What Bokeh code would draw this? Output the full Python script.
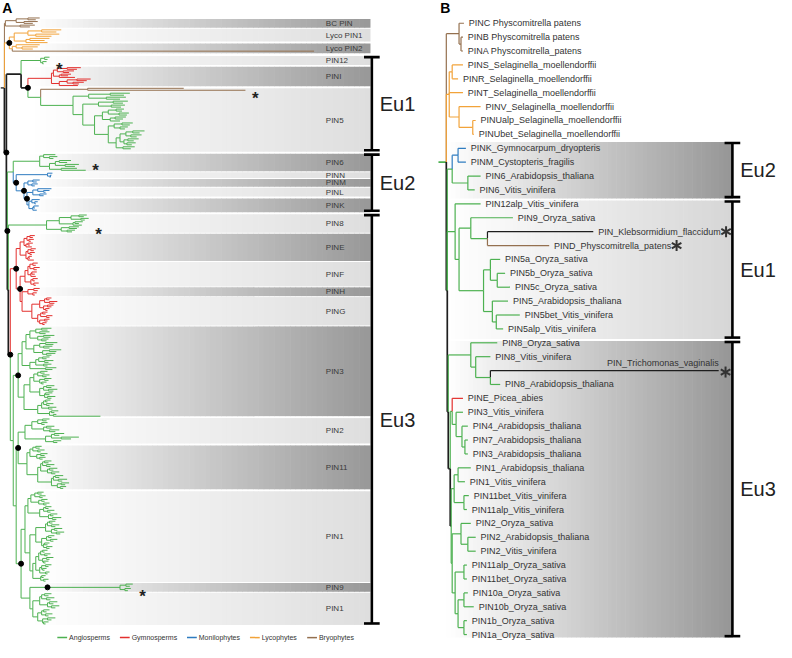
import copy
import math
from bokeh.plotting import figure
from bokeh.models import Range1d
from bokeh.embed import file_html
from bokeh.resources import INLINE
from bokeh.core.properties import value

# ============================ DATA ============================
# lineage colour keys used in the tree strings
LINEAGE_KEYS = ["g", "r", "u", "o", "w", "k"]
LINEAGE_COLORS = ["#4db151", "#e3302e", "#2f7cc0", "#f2a33a", "#94704f", "#1e1e1e"]
LEGEND_NAMES = ["Angiosperms", "Gymnosperms", "Monilophytes", "Lycophytes", "Bryophytes"]
LEGEND_KEYS = ["g", "r", "u", "o", "w"]

# ---- panel A: clade bands ----
BAND_LABELS_A = ["BC PIN", "Lyco PIN1", "Lyco PIN2", "PIN12", "PINI", "PIN5", "PIN6", "PINN",
                 "PINM", "PINL", "PINK", "PIN8", "PINE", "PINF", "PINH", "PING", "PIN3", "PIN2",
                 "PIN11", "PIN1", "PIN9", "PIN1"]
BAND_TOP_A = [19, 29, 44, 57, 68, 90, 157, 176, 183, 192, 203, 219, 239, 268, 294, 304, 334,
              428, 456, 503, 597, 607]
BAND_BOTTOM_A = [28, 42, 54, 66, 88, 155, 175, 182, 191, 201, 217, 238, 267, 293, 303, 333,
                 426, 454, 501, 596, 606, 640]
BAND_GROUP_A = ["", "", "", "Eu1", "Eu1", "Eu1", "Eu2", "Eu2", "Eu2", "Eu2", "Eu2", "Eu3",
                "Eu3", "Eu3", "Eu3", "Eu3", "Eu3", "Eu3", "Eu3", "Eu3", "Eu3", "Eu3"]

# ---- panel A: clades (node depth values; '*' node dot, '!' asterisk) ----
CLADE_NAMES_A = ["BC", "LYCO", "PIN12", "PINI", "PIN5B", "PIN5", "PIN6", "PINN", "PINM",
                 "PINL", "PINK", "PIN8", "PINE", "PINF", "PINH", "PING", "PIN3", "PIN2",
                 "PIN11", "PIN1A", "PIN9", "PIN1B"]
CLADE_TOP_A = [17, 29, 57, 68, 89, 94, 157, 176, 183, 192, 203, 219, 240, 268, 294, 304, 335,
               428, 456, 503, 597, 607]
CLADE_BOTTOM_A = [28, 53, 66, 88, 93, 153, 175, 182, 191, 201, 216, 238, 267, 293, 303, 333,
                  427, 454, 501, 596, 606, 640]
CLADE_TREES_A = [
    "(((40,36)28,(38,33)24)16,(35,30)20)w5",
    "((((62,57)42,(60,52)36)28,((50,45)30,48)26)14,((40,(38,33)22)16,w320)12)o9*",
    "((50,48)45,(47,44)43)g41!",
    "((((82,78)68,(75,70)64)58,((72,69)62,76)60)54,(((92,88)78,(85,80)74)68,79)60)r52",
    "(w187,w250)w89!",
    "(((132,126)112,(128,122)108)90,(((130,125)115,(127,123)113)100,((((126,124)118,(131,129)121)110,"
    "((128,125)117,122)112)104,(((135,132)124,(130,127)122)116,((((147,142)135,(144,139)133)128,"
    "((141,136)130,(138,134)129)126)122,(137,133)125)118)110)96)84)g74",
    "((56,(58,54)50)44,(((72,68)60,(80,76)66)56,(78,87)62)50)g40!",
    "(53,(52,50)51)u48",
    "((40,37)33,(38,35)32)u28",
    "((52,(50,46)44)38,(47,44)40)u33",
    "((40,(38,36)35)32,((39,35)34,37)33)u29",
    "((((88,85)80,(90,86)82)72,((84,80)76,83)74)60,((80,78)70,(76,73)68)62)g47!",
    "((((35,33)30,(34,31)29)27,((33,30)28,32)26)24,(((36,34)31,(35,32)30)28,((32,30)29,34)28)26)r20",
    "((((38,36)33,(40,37)34)30,((37,35)32,36)31)28,((38,35)33,(39,36)34)31)r25",
    "((40,38)34,(37,35)33)r28",
    "((((52,50)47,(58,55)50)45,((54,52)48,(50,48)46)44)40,(((48,46)43,(53,50)47)41,"
    "((50,48)45,(47,45)43)40)38)r32",
    "((((((52,48)42,(50,46)40)36,((55,51)44,(49,47)42)38)30,(((58,54)46,(53,50)44)40,"
    "((62,57)50,(56,52)47)43)34)26,((((50,47)43,(54,49)45)39,(52,48)44)36,(57,53)46)30)22,"
    "(((((48,45)41,(50,47)43)38,((52,49)45,(47,44)42)40)34,(((55,52)47,(58,54)49)44,"
    "((53,50)46,(56,52)48)45)40)30,((((51,48)46,(54,50)47)44,(57,53)49)42,"
    "((59,55)52,(57,102)54)50)38)24)g18*",
    "((((50,47)43,(48,45)42)38,((55,52)47,(60,56)50)44)32,(((65,60)55,(80,72)62)52,(62,58)54)46)g25",
    "((((42,40)36,(45,41)38)33,((48,45)41,(46,43)40)37)30,((((52,49)45,(55,51)47)43,"
    "((58,54)50,(60,56)52)48)41,(((64,60)56,(68,63)59)54,((70,66)62,(67,64)61)58)52)38)g27",
    "(((((44,42)38,(46,43)40)35,((48,45)42,(50,47)44)39)31,(((52,49)46,(55,51)48)44,"
    "((58,54)51,(62,57)53)49)40)28,(((((56,53)50,(60,56)52)48,((63,58)55,(65,61)57)52)46,"
    "(((55,52)49,(58,54)51)47,((50,48)45,(53,50)47)44)42)36,(((((48,45)43,(51,48)45)41,"
    "((54,50)47,(49,46)44)43)39,(((52,49)46,(47,45)43)42,(50,48)46)40)36,((46,44)42,"
    "(49,46)44)41)33)30)g25",
    "((135,132)128,(133,130)127)g122!",
    "((((52,49)45,(55,51)47)42,((58,54)50,(60,56)52)48)40,(((50,47)44,(53,49)46)42,"
    "((56,52)48,(49,46)44)43)38)g33",
]
# backbone joining the clades
TREE_A = ("(@BC,@LYCO,((@PIN12,(@PINI,(@PIN5B,@PIN5)g41)k28*)k21,"
          "((@PIN6,(@PINN,(@PINM,(@PINL,@PINK)u27*)u24*)u16*)g13,"
          "(@PIN8,((@PINE,(@PINF,(@PINH,@PING)r22)r20*)r16*,"
          "(@PIN3,((@PIN2,@PIN11)g18*,(@PIN1A,((@PIN9)g48*,@PIN1B)g30)g21*)g16)g13)k10*)k8)k7*)k6*)o4")

# ---- panel B ----
LABELS_B = [
    "PINC Physcomitrella patens", "PINB Physcomitrella patens", "PINA Physcomitrella_patens",
    "PINS_Selaginella_moellendorffii", "PINR_Selaginella_moellendorffii",
    "PINT_Selaginella_moellendorffii", "PINV_Selaginella_moellendorffii",
    "PINUalp_Selaginella_moellendorffii", "PINUbet_Selaginella_moellendorffii",
    "PINK_Gymnocarpum_dryopteris", "PINM_Cystopteris_fragilis", "PIN6_Arabidopsis_thaliana",
    "PIN6_Vitis_vinifera", "PIN12alp_Vitis_vinifera", "PIN9_Oryza_sativa",
    "PIN_Klebsormidium_flaccidum", "PIND_Physcomitrella_patens", "PIN5a_Oryza_sativa",
    "PIN5b_Oryza_sativa", "PIN5c_Oryza_sativa", "PIN5_Arabidopsis_thaliana",
    "PIN5bet_Vitis_vinifera", "PIN5alp_Vitis_vinifera", "PIN8_Oryza_sativa",
    "PIN8_Vitis_vinifera", "PIN_Trichomonas_vaginalis", "PIN8_Arabidopsis_thaliana",
    "PINE_Picea_abies", "PIN3_Vitis_vinifera", "PIN4_Arabidopsis_thaliana",
    "PIN7_Arabidopsis_thaliana", "PIN3_Arabidopsis_thaliana", "PIN1_Arabidopsis_thaliana",
    "PIN1_Vitis_vinifera", "PIN11bet_Vitis_vinifera", "PIN11alp_Vitis_vinifera",
    "PIN2_Oryza_sativa", "PIN2_Arabidopsis_thaliana", "PIN2_Vitis_vinifera",
    "PIN11alp_Oryza_sativa", "PIN11bet_Oryza_sativa", "PIN10a_Oryza_sativa",
    "PIN10b_Oryza_sativa", "PIN1b_Oryza_sativa", "PIN1a_Oryza_sativa",
]
SUBTREES_B = [
    "(w473,(w472,w472)w470)w468",
    "((472,467)461,472,(490,(485,483)482)468)o458",
    "((u475,u475)u467,(490,484)477)g461",
    "(490,((523,(k605!,w560!)497)480,((510,(515,520)507)500,(518,(530,513)506)502)493)468)g464",
    "((507,(500,(k733^!,510)500)485)g480,((r472,(472,(477,(477,477)474)471)465)g461,"
    "(((480,474)467,(478,476)473)g463,((480,(485,485)477)470,((476,476)473,((477,483)473,"
    "(476,476)473)467)464)g461)k460)k459)k457",
]
TREE_B = ("(" + SUBTREES_B[0] + "," + SUBTREES_B[1] + ",(" + SUBTREES_B[2] + "," +
          SUBTREES_B[3] + "," + SUBTREES_B[4] + ")k456)k455")
BAND_NAMES_B = ["Eu2", "Eu1", "Eu3"]
BAND_TOP_B = [145, 205, 349]
BAND_BOTTOM_B = [203, 347, 653]

# ============================ STYLE ============================
COL = dict(zip(LINEAGE_KEYS, LINEAGE_COLORS))
FONT = value("Liberation Sans")
TEXT_COL = "#333333"
A_BAND_X0, A_BAND_X1 = 30, 377
B_BAND_X0, B_BAND_X1 = 455, 747
A_BRACKET_X, B_BRACKET_X = 379, 747
B_ROW0, B_ROW_STEP = 23.3, 14.24
DARK_END, LIGHT_END = 152, 222
B_BAND_END = {"Eu2": 150, "Eu1": 214, "Eu3": 150}

ARIAL = {}
for w, chars in [(222, "ijl"), (278, "ftI .,:"), (333, "r-"), (500, "cksvxyzJ"),
                 (556, "abdeghnopqu0123456789_L"), (611, "FTZ"), (667, "ABEKPSVXY"),
                 (722, "CDHNRUw"), (778, "GOQ"), (833, "mM"), (944, "W")]:
    for ch in chars:
        ARIAL[ch] = w


def text_w(s, fs):
    return sum(ARIAL.get(ch, 556) for ch in s) / 1000.0 * fs


# ============================ TREE HELPERS ============================
def parse_tree(s, refs=None):
    s = s.replace(" ", "")
    pos = [0]

    def number():
        j = pos[0]
        while pos[0] < len(s) and (s[pos[0]].isdigit() or s[pos[0]] == "."):
            pos[0] += 1
        return float(s[j:pos[0]])

    def node():
        if s[pos[0]] == "@":
            pos[0] += 1
            j = pos[0]
            while pos[0] < len(s) and (s[pos[0]].isalnum() or s[pos[0]] == "_"):
                pos[0] += 1
            return copy.deepcopy(refs[s[j:pos[0]]])
        n = {"children": [], "color": None, "dot": False, "star": False, "above": False}
        if s[pos[0]] == "(":
            pos[0] += 1
            n["children"].append(node())
            while s[pos[0]] == ",":
                pos[0] += 1
                n["children"].append(node())
            assert s[pos[0]] == ")", "bad tree at %d" % pos[0]
            pos[0] += 1
        if s[pos[0]].isalpha():
            n["color"] = s[pos[0]]
            pos[0] += 1
        n["x"] = number()
        while pos[0] < len(s) and s[pos[0]] in "*!^":
            n[{"*": "dot", "!": "star", "^": "above"}[s[pos[0]]]] = True
            pos[0] += 1
        return n

    root = node()
    assert pos[0] == len(s), "trailing text in tree"
    return root


def resolve_colors(n, parent):
    if n["color"] is None:
        n["color"] = parent
    for c in n["children"]:
        resolve_colors(c, n["color"])


def leaves(n, out=None):
    if out is None:
        out = []
    if not n["children"]:
        out.append(n)
    for c in n["children"]:
        leaves(c, out)
    return out


def set_y(n):
    if n["children"]:
        for c in n["children"]:
            set_y(c)
        n["y"] = (n["children"][0]["y"] + n["children"][-1]["y"]) / 2.0


def all_nodes(n, out=None):
    if out is None:
        out = []
    out.append(n)
    for c in n["children"]:
        all_nodes(c, out)
    return out


def tree_segments(root, thin, thick, stem, stem_color):
    x0, y0, x1, y1, cols, wids = [], [], [], [], [], []
    x0.append(root["x"] - stem); y0.append(root["y"]); x1.append(root["x"]); y1.append(root["y"])
    cols.append(stem_color); wids.append(thick)
    for n in all_nodes(root):
        for c in n["children"]:
            w = thick if (c["color"] == "k" and c["children"]) else thin
            col = COL[c["color"]]
            x0 += [n["x"], n["x"]]; y0 += [n["y"], c["y"]]
            x1 += [n["x"], c["x"]]; y1 += [c["y"], c["y"]]
            cols += [col, col]; wids += [w, w]
    return dict(x0=x0, y0=y0, x1=x1, y1=y1, color=cols, width=wids)


# ---- build tree A ----
clades = {}
for name, top, bot, s in zip(CLADE_NAMES_A, CLADE_TOP_A, CLADE_BOTTOM_A, CLADE_TREES_A):
    n = parse_tree(s)
    resolve_colors(n, "k")
    ls = leaves(n)
    step = (bot - top) / float(len(ls))
    for k, l in enumerate(ls):
        l["y"] = top + (k + 0.5) * step
    set_y(n)
    clades[name] = n
root_a = parse_tree(TREE_A, clades)
resolve_colors(root_a, "k")
set_y(root_a)

# ---- build tree B ----
root_b = parse_tree(TREE_B)
resolve_colors(root_b, "k")
leaves_b = leaves(root_b)
assert len(leaves_b) == len(LABELS_B)
for k, l in enumerate(leaves_b):
    l["y"] = B_ROW0 + k * B_ROW_STEP
    l["label"] = LABELS_B[k]
set_y(root_b)

# ============================ FIGURE ============================
p = figure(width=776, height=642, x_range=Range1d(0, 792), y_range=Range1d(658, 0),
           output_backend="svg", toolbar_location=None, min_border=0)
p.axis.visible = False
p.grid.visible = False
p.outline_line_color = None
p.background_fill_color = "white"
p.border_fill_color = "white"


def gradient_bands(tops, bots, ends, xa, xb, nslice=64):
    L, R, T, B, C = [], [], [], [], []
    dx = (xb - xa) / float(nslice)
    for top, bot, end in zip(tops, bots, ends):
        for i in range(nslice):
            t = (i + 0.5) / nslice
            g = int(round(255 + (end - 255) * t))
            L.append(xa + i * dx); R.append(xa + (i + 1) * dx + 0.6)
            T.append(top); B.append(bot)
            C.append("#%02x%02x%02x" % (g, g, g))
    p.quad(left=L, right=R, top=T, bottom=B, fill_color=C, line_color=None)


# bands A (alternating dark / light)
ends_a = [DARK_END if i % 2 == 0 else LIGHT_END for i in range(len(BAND_LABELS_A))]
gradient_bands(BAND_TOP_A, BAND_BOTTOM_A, ends_a, A_BAND_X0, A_BAND_X1)
# bands B
gradient_bands(BAND_TOP_B, BAND_BOTTOM_B, [B_BAND_END[n] for n in BAND_NAMES_B],
               B_BAND_X0, B_BAND_X1)

# band labels A
p.text(x=[332] * len(BAND_LABELS_A),
       y=[(t + b) / 2.0 for t, b in zip(BAND_TOP_A, BAND_BOTTOM_A)],
       text=BAND_LABELS_A, text_font=FONT, text_font_size=value("8px"),
       text_color="#3a3a3a", text_align="left", text_baseline="middle")

# trees
seg_a = tree_segments(root_a, 1.0, 1.7, 4, "#555555")
p.segment(x0=seg_a["x0"], y0=seg_a["y0"], x1=seg_a["x1"], y1=seg_a["y1"],
          line_color=seg_a["color"], line_width=seg_a["width"])
seg_b = tree_segments(root_b, 1.2, 1.7, 8, COL["g"])
p.segment(x0=seg_b["x0"], y0=seg_b["y0"], x1=seg_b["x1"], y1=seg_b["y1"],
          line_color=seg_b["color"], line_width=seg_b["width"])

# node dots
dots = [n for n in all_nodes(root_a) if n["dot"]]
p.scatter(x=[n["x"] for n in dots], y=[n["y"] for n in dots], size=5,
          fill_color="black", line_color="black")

# asterisks panel A
stars = [n for n in all_nodes(root_a) if n["star"]]
p.text(x=[max(l["x"] for l in leaves(n)) + 10 for n in stars],
       y=[n["y"] + 9.5 for n in stars], text=["*"] * len(stars),
       text_font=FONT, text_font_size=value("17px"), text_font_style="bold",
       text_color="#222222", text_align="center", text_baseline="alphabetic")

# leaf labels panel B
norm = [l for l in leaves_b if not l["above"]]
p.text(x=[l["x"] + 5 for l in norm], y=[l["y"] for l in norm], text=[l["label"] for l in norm],
       text_font=FONT, text_font_size=value("9px"), text_color=TEXT_COL,
       text_align="left", text_baseline="middle")
abv = [l for l in leaves_b if l["above"]]
p.text(x=[l["x"] for l in abv], y=[l["y"] - 2.5 for l in abv], text=[l["label"] for l in abv],
       text_font=FONT, text_font_size=value("9px"), text_color=TEXT_COL,
       text_align="right", text_baseline="bottom")
sx, sy = [], []
for l in leaves_b:
    if l["star"]:
        if l["above"]:
            sx.append(l["x"] + 7); sy.append(l["y"] + 1.5)
        else:
            sx.append(l["x"] + 5 + text_w(l["label"], 9) + 8); sy.append(l["y"])
# six-armed asterisks: three dashes at 60 degree steps
for ang in (math.pi / 2, math.pi / 6, -math.pi / 6):
    p.scatter(x=sx, y=sy, marker="dash", size=11, angle=ang, line_color="#333333",
              line_width=2.0)


# brackets
def brackets(names, tops, bots, x):
    vx0, vy0, vx1, vy1 = [], [], [], []
    lx, ly, lt = [], [], []
    for nm, t, b in zip(names, tops, bots):
        yt, yb = t + 1, b - 1.5
        vx0 += [x, x - 8, x - 8]; vy0 += [yt, yt, yb]
        vx1 += [x, x + 8, x + 8]; vy1 += [yb, yt, yb]
        lx.append(x + 8); ly.append((t + b) / 2.0); lt.append(nm)
    p.segment(x0=vx0, y0=vy0, x1=vx1, y1=vy1, line_color="black", line_width=2.6)
    p.text(x=lx, y=ly, text=lt, text_font=FONT, text_font_size=value("20px"),
           text_color="#222222", text_align="left", text_baseline="middle")


groups_a = ["Eu1", "Eu2", "Eu3"]
brackets(groups_a,
         [min(t for t, g in zip(BAND_TOP_A, BAND_GROUP_A) if g == G) for G in groups_a],
         [max(b for b, g in zip(BAND_BOTTOM_A, BAND_GROUP_A) if g == G) for G in groups_a],
         A_BRACKET_X)
brackets(BAND_NAMES_B, BAND_TOP_B, BAND_BOTTOM_B, B_BRACKET_X)

# legend panel A
lx = 58.0
lg_x0, lg_x1, lg_c, tx = [], [], [], []
for nm, key in zip(LEGEND_NAMES, LEGEND_KEYS):
    lg_x0.append(lx); lg_x1.append(lx + 10); lg_c.append(COL[key])
    tx.append(lx + 12)
    lx += 12 + text_w(nm, 7) + 11
p.segment(x0=lg_x0, y0=[653] * 5, x1=lg_x1, y1=[653] * 5, line_color=lg_c, line_width=1.5)
p.text(x=tx, y=[653] * 5, text=LEGEND_NAMES, text_font=FONT, text_font_size=value("7px"),
       text_color=TEXT_COL, text_align="left", text_baseline="middle")

# panel letters
p.text(x=[7, 454], y=[8, 8], text=["A", "B"], text_font=FONT, text_font_size=value("14px"),
       text_font_style="bold", text_color="black", text_align="center", text_baseline="middle")

open("out.html", "w").write(file_html(p, INLINE))
